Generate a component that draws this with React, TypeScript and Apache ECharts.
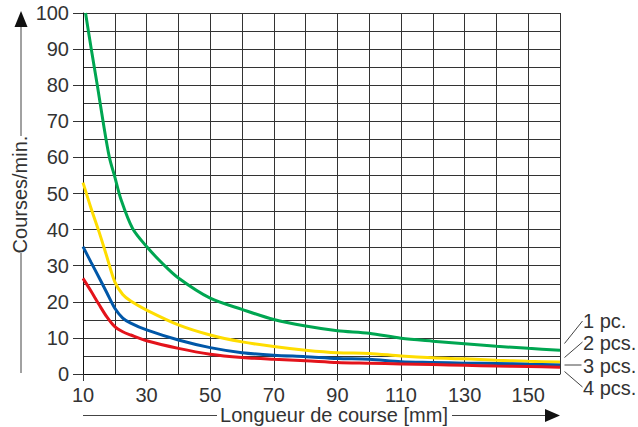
import React, { useEffect, useRef } from "react";
import * as echarts from "echarts";

// Stroke length (mm) sample positions and strokes/min values
const greenX = [10.8, 12.6, 14.5, 16.3, 18.3, 20, 22, 25.6, 30, 35, 40, 50, 60, 70, 80, 90, 100, 110, 120, 130, 140, 150, 160];
const onePiece = [100, 90, 80, 70, 60, 54.6, 48.2, 40.3, 35.3, 30.6, 26.6, 21, 17.9, 15.1, 13.3, 12, 11.3, 9.9, 9.1, 8.4, 7.7, 7.1, 6.6];

const otherX = [10, 12.5, 15, 17.5, 20, 22.5, 25, 30, 40, 50, 60, 70, 80, 90, 100, 110, 120, 130, 140, 150, 160];
const twoPieces = [53, 46, 39.5, 32.5, 25.5, 22, 20.2, 17.7, 13.6, 10.8, 8.9, 7.6, 6.6, 5.9, 5.7, 5.0, 4.5, 4.2, 3.8, 3.5, 3.3];
const threePieces = [35.3, 31, 26.8, 22.5, 18.2, 15.5, 14.1, 12.2, 9.4, 7.3, 5.9, 5.2, 4.8, 4.3, 4.1, 3.4, 3.2, 3.0, 2.9, 2.7, 2.5];
const fourPieces = [26.5, 23, 19.3, 15.8, 13.1, 11.7, 10.8, 9.2, 7.1, 5.5, 4.6, 4.1, 3.7, 3.2, 3.0, 2.8, 2.6, 2.4, 2.2, 2.1, 1.9];

const xTickLabels = [10, 30, 50, 70, 90, 110, 130, 150];
const yTickLabels = [0, 10, 20, 30, 40, 50, 60, 70, 80, 90, 100];

const seriesNames = ["1 pc.", "2 pcs.", "3 pcs.", "4 pcs."];
const colors = ["#00a651", "#ffdd00", "#0057a8", "#e3131b"];

const xTitle = "Longueur de course [mm]";
const yTitle = "Courses/min.";

const FONT = '"Liberation Sans", Arial, Helvetica, sans-serif';
const TXT = "#333333";
const LINE = "#444";

const pairs = (xs: number[], ys: number[]) => xs.map((x, i) => [x, ys[i]]);

export default function App() {
  const ref = useRef<HTMLDivElement>(null);
  useEffect(() => {
    if (!ref.current) return;
    const chart = echarts.init(ref.current, null, { renderer: "svg" });
    const seriesData = [
      pairs(greenX, onePiece),
      pairs(otherX, twoPieces),
      pairs(otherX, threePieces),
      pairs(otherX, fourPieces),
    ];
    const labelY = [320.5, 343, 366, 388];
    const leaders = [
      [564.5, 343.5, 582.5, 321],
      [564.5, 357.5, 582.5, 342],
      [564.5, 365, 581.5, 365],
      [564.5, 371.5, 582.5, 387],
    ];
    const labelStyle = { fontSize: 20, fontFamily: FONT, color: TXT };
    chart.setOption({
      animation: false,
      backgroundColor: "#ffffff",
      grid: { left: 83, right: 78, top: 13, bottom: 53, containLabel: false },
      xAxis: [
        {
          type: "value",
          min: 10,
          max: 160,
          interval: 10,
          axisLine: { show: true, onZero: false, lineStyle: { color: "#111", width: 1 } },
          axisTick: { show: true, length: 7, customValues: xTickLabels, lineStyle: { color: "#333" } },
          axisLabel: { customValues: xTickLabels, margin: 11, ...labelStyle },
          splitLine: { show: false },
          z: 2,
        },
        {
          type: "value",
          min: 10,
          max: 160,
          interval: 10,
          position: "bottom",
          axisLine: { show: false },
          axisTick: { show: false },
          axisLabel: { show: false },
          splitLine: { show: true, lineStyle: { color: "#333", width: 1 } },
        },
      ],
      yAxis: [
        {
          type: "value",
          min: 0,
          max: 100,
          interval: 10,
          axisLine: { show: true, lineStyle: { color: "#111", width: 1 } },
          axisTick: { show: true, length: 10, customValues: yTickLabels, lineStyle: { color: "#333" } },
          axisLabel: { customValues: yTickLabels, margin: 14, ...labelStyle },
          splitLine: { show: false },
          z: 2,
        },
        {
          type: "value",
          min: 0,
          max: 100,
          interval: 5,
          position: "left",
          axisLine: { show: false },
          axisTick: { show: false },
          axisLabel: { show: false },
          splitLine: { show: true, lineStyle: { color: "#333", width: 1 } },
        },
      ],
      series: seriesData.map((d, i) => ({
        name: seriesNames[i],
        type: "line",
        xAxisIndex: 0,
        yAxisIndex: 0,
        data: d,
        smooth: 0.3,
        showSymbol: false,
        symbol: "none",
        clip: true,
        lineStyle: { color: colors[i], width: 3 },
        z: 3 + i,
      })),
      graphic: [
        // y-axis title with arrow
        { type: "line", shape: { x1: 21, y1: 26, x2: 21, y2: 136 }, style: { stroke: LINE, lineWidth: 1 } },
        { type: "polygon", shape: { points: [[21, 11], [14.5, 27], [27.5, 27]] }, style: { fill: "#111" } },
        { type: "line", shape: { x1: 21, y1: 253, x2: 21, y2: 373 }, style: { stroke: LINE, lineWidth: 1 } },
        {
          type: "text",
          x: 20,
          y: 194.5,
          rotation: Math.PI / 2,
          style: { text: yTitle, font: `20px ${FONT}`, fill: TXT, textAlign: "center", textVerticalAlign: "middle" },
        },
        // x-axis title with arrow
        { type: "line", shape: { x1: 83, y1: 415.5, x2: 217, y2: 415.5 }, style: { stroke: LINE, lineWidth: 1 } },
        { type: "line", shape: { x1: 452, y1: 415.5, x2: 547, y2: 415.5 }, style: { stroke: LINE, lineWidth: 1 } },
        { type: "polygon", shape: { points: [[545, 409], [560, 415.5], [545, 422]] }, style: { fill: "#111" } },
        {
          type: "text",
          x: 334,
          y: 415,
          style: { text: xTitle, font: `20px ${FONT}`, fill: TXT, textAlign: "center", textVerticalAlign: "middle" },
        },
        // right-hand labels with leaders
        ...leaders.map((l) => ({
          type: "line",
          shape: { x1: l[0], y1: l[1], x2: l[2], y2: l[3] },
          style: { stroke: LINE, lineWidth: 1 },
        })),
        ...seriesNames.map((n, i) => ({
          type: "text",
          x: 583,
          y: labelY[i],
          style: { text: n, font: `20px ${FONT}`, fill: TXT, textAlign: "left", textVerticalAlign: "middle" },
        })),
      ],
    });
    return () => chart.dispose();
  }, []);
  return (
    <div
      ref={ref}
      style={{ position: "fixed", left: 0, top: 0, width: 638, height: 427, background: "#fff" }}
    />
  );
}
